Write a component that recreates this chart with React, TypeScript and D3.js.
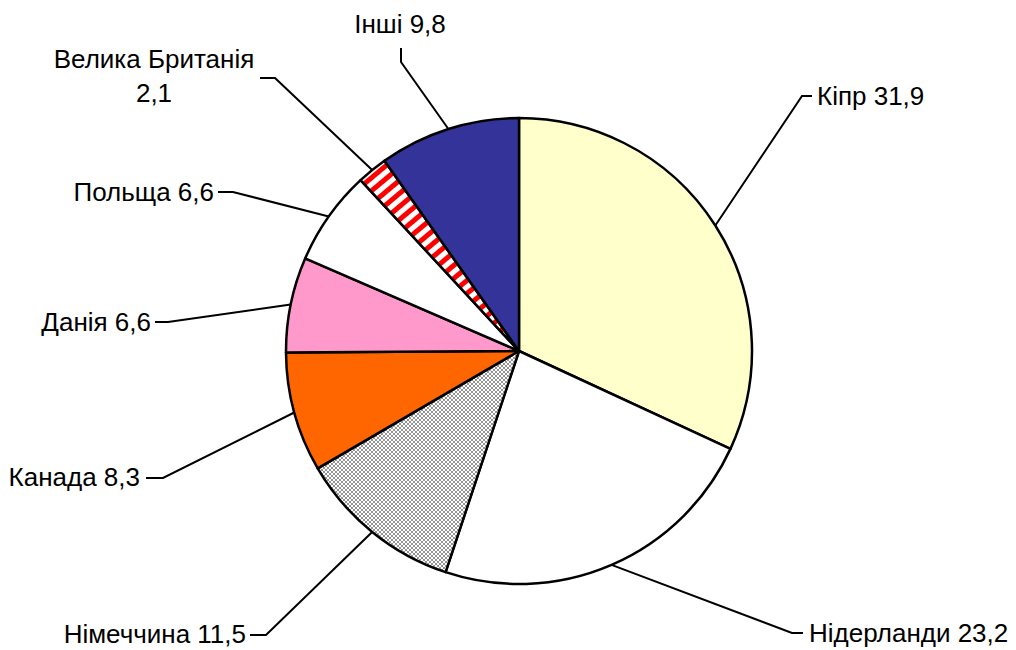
import React from "react";
import * as d3 from "d3";

const categories = ["Кіпр", "Нідерланди", "Німеччина", "Канада", "Данія", "Польща", "Велика Британія", "Інші"];
const values = [31.9, 23.2, 11.5, 8.3, 6.6, 6.6, 2.1, 9.8];
const valueLabels = ["31,9", "23,2", "11,5", "8,3", "6,6", "6,6", "2,1", "9,8"];
const fills = ["#FFFFCC", "#FFFFFF", "url(#checker)", "#FF6600", "#FF99CC", "#FFFFFF", "url(#stripes)", "#333399"];

// label layout: text position, anchor, leader elbow and end
type Lay = { tx: number; ty: number; anchor: "start" | "end" | "middle"; elbow: [number, number]; end: [number, number]; lines?: string[] };
const layout: Lay[] = [
  { tx: 817, ty: 105, anchor: "start", elbow: [802, 96], end: [812, 96] },
  { tx: 809, ty: 642, anchor: "start", elbow: [792, 633], end: [803, 633] },
  { tx: 246, ty: 643, anchor: "end", elbow: [266, 635], end: [250, 635] },
  { tx: 140, ty: 486, anchor: "end", elbow: [163, 478], end: [146, 478] },
  { tx: 151, ty: 331, anchor: "end", elbow: [168, 322], end: [155, 322] },
  { tx: 214, ty: 201, anchor: "end", elbow: [233, 192], end: [218, 192] },
  { tx: 154, ty: 68, anchor: "middle", elbow: [275, 78], end: [260, 78], lines: ["Велика Британія", "2,1"] },
  { tx: 400, ty: 33, anchor: "middle", elbow: [401, 62], end: [401, 48] },
];

export default function App() {
  const cx = 519;
  const cy = 351;
  const r = 233;
  const pie = d3.pie<number>().sort(null).value((d) => d)(values);
  const arc = d3.arc<d3.PieArcDatum<number>>().innerRadius(0).outerRadius(r);
  const edge = d3.arc<d3.PieArcDatum<number>>().innerRadius(r).outerRadius(r);
  const font = "Arial, 'Liberation Sans', sans-serif";
  return (
    <svg width={1016} height={650} style={{ position: "absolute", left: 0, top: 0 }}>
      <defs>
        <pattern id="checker" width={4} height={4} patternUnits="userSpaceOnUse">
          <rect width={4} height={4} fill="#ffffff" />
          <rect x={0} y={0} width={2} height={2} fill="#949494" />
          <rect x={2} y={2} width={2} height={2} fill="#949494" />
        </pattern>
        <pattern id="stripes" width={10} height={10} patternUnits="userSpaceOnUse" patternTransform="rotate(-40)">
          <rect width={10} height={10} fill="#ffffff" />
          <rect width={10} height={5} fill="#FF0000" />
        </pattern>
      </defs>
      <rect width={1016} height={650} fill="#ffffff" />
      <g transform={`translate(${cx},${cy})`}>
        {pie.map((p, i) => (
          <path key={i} d={arc(p) || ""} fill={fills[i]} stroke="#000" strokeWidth={2.5} strokeLinejoin="round" />
        ))}
      </g>
      {pie.map((p, i) => {
        const [ex, ey] = edge.centroid(p);
        const L = layout[i];
        const pts = [[cx + ex, cy + ey], L.elbow, L.end];
        return (
          <polyline key={"l" + i} points={pts.map((q) => q.join(",")).join(" ")} fill="none" stroke="#000" strokeWidth={2} />
        );
      })}
      {layout.map((L, i) => {
        const lines = L.lines || [`${categories[i]} ${valueLabels[i]}`];
        return (
          <text key={"t" + i} x={L.tx} y={L.ty} textAnchor={L.anchor} fontFamily={font} fontSize={26} fill="#000">
            {lines.map((s, j) => (
              <tspan key={j} x={L.tx} dy={j === 0 ? 0 : 34}>{s}</tspan>
            ))}
          </text>
        );
      })}
    </svg>
  );
}
